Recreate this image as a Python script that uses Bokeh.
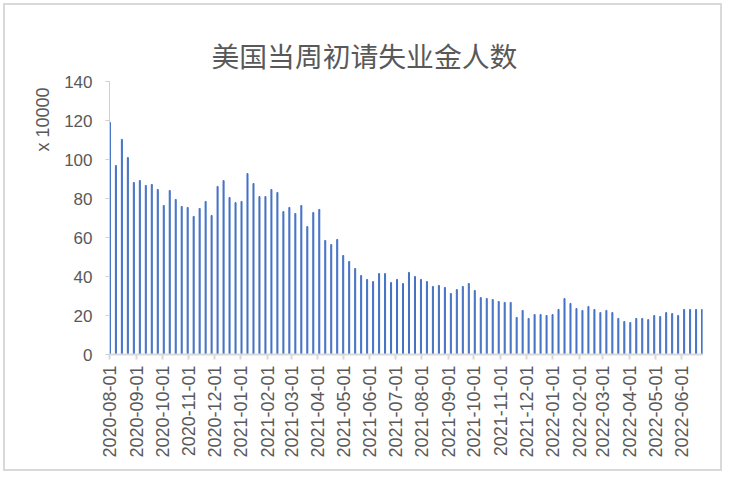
import math
import pandas as pd
from bokeh.plotting import figure
from bokeh.models import Range1d, FixedTicker, DatetimeTickFormatter, Title
from bokeh.embed import file_html
from bokeh.resources import INLINE

title_text = "美国当周初请失业金人数"
y_label_text = "x 10000"

week_start = "2020-08-01"
claims = [
    119.0, 96.9, 110.3, 101.0, 88.2, 89.2, 86.7, 87.2, 84.6, 76.4, 84.1, 79.5, 75.9, 75.4,
    70.8, 74.9, 78.5, 71.3, 86.2, 89.2, 80.5, 77.9, 78.5, 92.8, 87.7, 81.0, 81.0, 84.6,
    83.1, 73.3, 75.4, 72.3,
    76.4, 65.6, 72.8, 74.4, 58.5, 56.4, 59.0, 50.8, 47.7, 44.1, 40.5, 38.5, 37.4, 41.5,
    41.5, 36.9, 38.5, 36.4, 42.1, 40.0, 38.5, 37.4, 34.9, 35.4, 34.4, 31.3, 33.3, 34.9,
    36.4, 32.8, 29.2, 28.7, 28.2, 27.2, 26.7,
    26.7, 19.0, 22.6, 18.5, 20.5, 20.5, 20.0, 20.5, 23.1, 28.7, 26.2, 23.6, 22.6, 24.6,
    23.1, 21.5, 22.6, 21.5, 18.5, 16.9, 16.4, 18.5, 18.5, 17.9, 20.0, 19.5, 21.5, 21.0,
    20.0, 23.1, 23.1, 23.1, 23.1,
]
weeks = pd.date_range(week_start, periods=len(claims), freq="7D")
month_ticks = pd.date_range("2020-08-01", "2022-06-01", freq="MS")
y_ticks = [0, 20, 40, 60, 80, 100, 120, 140]

DAY_MS = 86400000
tick_ms = [int(t.value // 10**6) for t in month_ticks]
grey = "#595959"

p = figure(
    width=719, height=468,
    x_axis_type="datetime",
    x_range=Range1d(pd.Timestamp("2020-07-31 12:00"), pd.Timestamp("2022-06-25 12:00")),
    y_range=Range1d(0, 140),
    output_backend="svg", toolbar_location=None,
    min_border_left=104, min_border_right=22, min_border_top=76, min_border_bottom=119,
)
p.styles = {"position": "relative", "left": "3px", "top": "3px",
            "border": "2px solid #D9D9D9"}
p.outline_line_color = None
p.grid.visible = False

p.title.text = title_text
p.title.align = "left"
p.title.vertical_align = "top"
p.title.offset = 102
p.title.standoff = 10
p.title.text_line_height = 1.4
p.title.text_font = "Noto Sans CJK SC"
p.title.text_font_size = "27.8px"
p.title.text_font_style = "normal"
p.title.text_color = grey

p.vbar(x=weeks, top=claims, bottom=0, width=1.2 * DAY_MS, color="#4472C4")

ax = p.xaxis[0]
ax.ticker = FixedTicker(ticks=tick_ms)
fmt = "%Y-%m-%d"
ax.formatter = DatetimeTickFormatter(
    microseconds=fmt, milliseconds=fmt, seconds=fmt, minsec=fmt, minutes=fmt,
    hourmin=fmt, hours=fmt, days=fmt, months=fmt, years=fmt)
ax.major_label_orientation = math.pi / 2
ax.major_label_text_font = "Liberation Sans"
ax.major_label_text_font_size = "18px"
ax.major_label_text_color = grey
ax.major_label_standoff = 6
ax.axis_line_color = "#D9D9D9"
ax.axis_line_width = 2
ax.major_tick_line_color = "#D9D9D9"
ax.major_tick_line_width = 2
ax.major_tick_in = 0
ax.major_tick_out = 5
ax.minor_tick_line_color = None

ay = p.yaxis[0]
ay.ticker = FixedTicker(ticks=y_ticks)
ay.major_label_text_font = "Liberation Sans"
ay.major_label_text_font_size = "17px"
ay.major_label_text_color = grey
ay.major_label_standoff = 13
ay.axis_line_color = "#D0D0D0"
ay.major_tick_line_color = "#D0D0D0"
ay.major_tick_in = 0
ay.major_tick_out = 4
ay.minor_tick_line_color = None

p.add_layout(Title(text=y_label_text, align="right", offset=6, standoff=18,
                   text_font="Liberation Sans", text_font_size="18px",
                   text_font_style="normal", text_color=grey), "left")

open("out.html", "w").write(file_html(p, INLINE))
